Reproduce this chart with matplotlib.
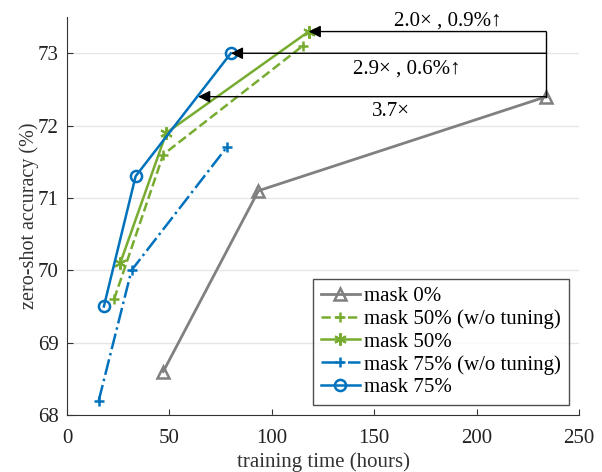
import matplotlib.pyplot as plt

plt.rcParams['font.family'] = ['Liberation Serif', 'DejaVu Serif']

# Data
t_mask0 = [47, 93.5, 234]
acc_mask0 = [68.6, 71.1, 72.4]
t_mask50_nt = [23, 47, 115]
acc_mask50_nt = [69.6, 71.6, 73.1]
t_mask50 = [26, 48.5, 118]
acc_mask50 = [70.1, 71.9, 73.3]
t_mask75_nt = [15.5, 31.5, 78]
acc_mask75_nt = [68.2, 70.0, 71.7]
t_mask75 = [18, 33.5, 80]
acc_mask75 = [69.5, 71.3, 73.0]

gray = '#808080'
green = '#77AC30'
blue = '#0072BD'

fig = plt.figure(figsize=(6.02, 4.72), dpi=100)
ax = fig.add_axes([0.1113, 0.1208, 0.8505, 0.843])

ax.plot(t_mask0, acc_mask0, '-', color=gray, lw=2, marker='^', ms=9,
        mfc='none', mew=1.8, label='mask 0%')
ax.plot(t_mask50_nt, acc_mask50_nt, '--', color=green, lw=1.8, marker='+', ms=7,
        mew=1.8, label='mask 50% (w/o tuning)')
ax.plot(t_mask50, acc_mask50, '-', color=green, lw=1.8, marker=(6, 2, 0), ms=9,
        mew=1.5, label='mask 50%')
ax.plot(t_mask75_nt, acc_mask75_nt, '-.', color=blue, lw=1.8, marker='+', ms=7,
        mew=1.8, label='mask 75% (w/o tuning)')
ax.plot(t_mask75, acc_mask75, '-', color=blue, lw=1.8, marker='o', ms=8,
        mfc='none', mew=1.8, label='mask 75%')

# speed-up arrows
x0 = t_mask0[-1]
ax.plot([x0, x0], [acc_mask0[-1], acc_mask50[-1]], color='black', lw=1)
arrow = dict(arrowstyle='-|>', color='black', lw=1, shrinkA=0, shrinkB=0,
             mutation_scale=18)
ax.annotate('', xy=(t_mask50[-1], acc_mask50[-1]), xytext=(x0, acc_mask50[-1]),
            arrowprops=arrow)
ax.annotate('', xy=(t_mask75[-1], acc_mask75[-1]), xytext=(x0, acc_mask75[-1]),
            arrowprops=arrow)
ax.annotate('', xy=(64, acc_mask0[-1]), xytext=(x0, acc_mask0[-1]),
            arrowprops=arrow)
ax.text(186, 73.45, '2.0× , 0.9%↑', ha='center', va='center', fontsize=15)
ax.text(166, 72.78, '2.9× , 0.6%↑', ha='center', va='center', fontsize=15)
ax.text(158, 72.19, '3.7×', ha='center', va='center', fontsize=15)

ax.set_xlim(0, 250)
ax.set_ylim(68, 73.5)
ax.set_xticks([0, 50, 100, 150, 200, 250])
ax.set_yticks([68, 69, 70, 71, 72, 73])
ax.grid(True, axis='y', color='#e6e6e6', lw=1)
ax.set_axisbelow(True)
for s in ['top', 'right']:
    ax.spines[s].set_visible(False)
for s in ['left', 'bottom']:
    ax.spines[s].set_color('#333333')
ax.tick_params(direction='in', length=4, labelsize=15, colors='#333333',
               labelcolor='#222222')
ax.tick_params(axis='x', pad=10)
ax.tick_params(axis='y', pad=6)
ax.set_xlabel('training time (hours)', fontsize=15, color='#333333', labelpad=3)
ax.set_ylabel('zero-shot accuracy (%)', fontsize=14.5, color='#333333', labelpad=-1)

leg = ax.legend(loc='lower right', fontsize=15, frameon=True, fancybox=False,
                edgecolor='#222222', handlelength=1.9, handletextpad=0.2,
                borderpad=0.35, labelspacing=0.15, borderaxespad=0.5)
leg.get_frame().set_linewidth(1)

fig.savefig('out.png', dpi=100)
